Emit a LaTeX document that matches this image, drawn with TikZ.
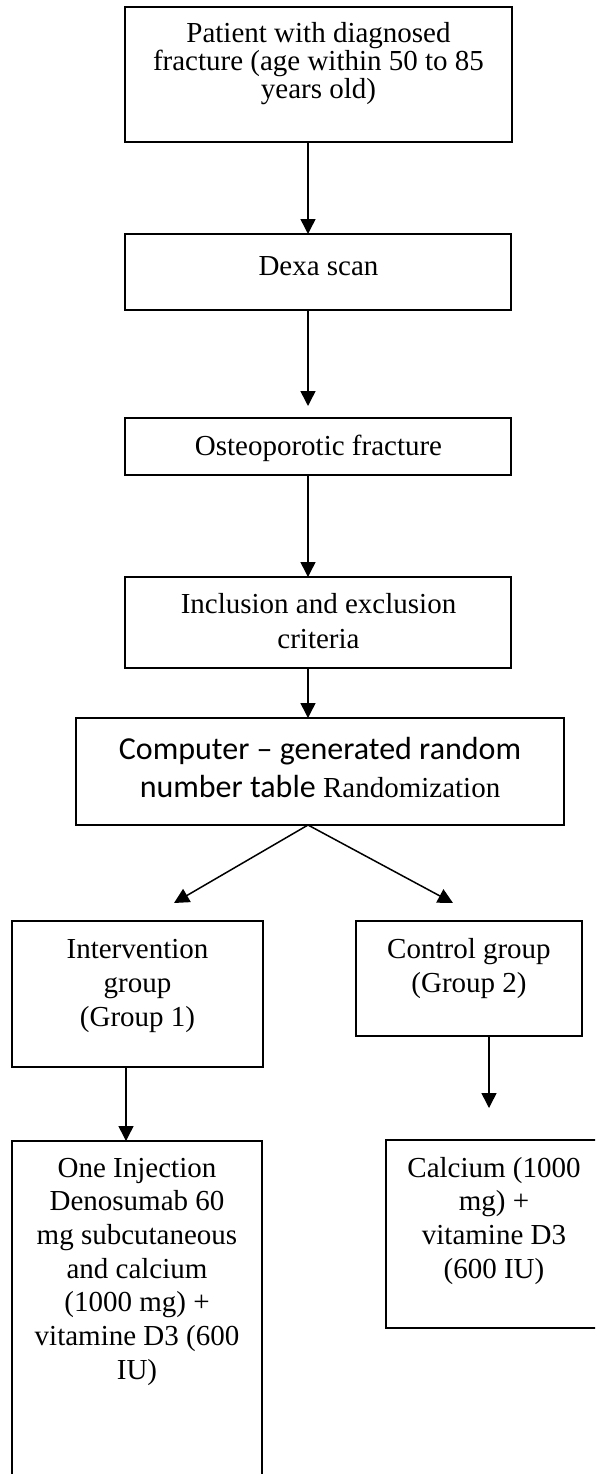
\documentclass[tikz,border=0pt]{standalone}
\usepackage{fontspec}
\setmainfont{Liberation Serif}
\newfontfamily\calib{Carlito}
\usetikzlibrary{arrows.meta}
\lineskiplimit=-100pt
\begin{document}
\begin{tikzpicture}[x=1pt,y=-1pt,
  boxst/.style={draw, line width=1.6pt, inner sep=0pt, outer sep=0pt, anchor=north west},
  txt/.style={inner sep=0pt, outer sep=0pt, anchor=base},
  arr/.style={line width=1.5pt, -{Triangle[length=15pt,width=15pt]}}]
\useasboundingbox (0,0) rectangle (595,1474);
\clip (0,0) rectangle (595,1474);
% boxes
\node[boxst, minimum width=387pt, minimum height=135pt] (b1) at (125,7) {};
\node[boxst, minimum width=386pt, minimum height=76pt] (b2) at (125,234) {};
\node[boxst, minimum width=386pt, minimum height=57pt] (b3) at (125,418) {};
\node[boxst, minimum width=386pt, minimum height=91pt] (b4) at (125,577) {};
\node[boxst, minimum width=488pt, minimum height=107pt] (b5) at (76,718) {};
\node[boxst, minimum width=251pt, minimum height=146pt] (b6) at (12,921) {};
\node[boxst, minimum width=226pt, minimum height=115pt] (b7) at (356,921) {};
\node[boxst, minimum width=250pt, minimum height=349pt] (b8) at (12,1141) {};
\node[boxst, minimum width=216pt, minimum height=188pt] (b9) at (386,1140) {};
% texts
\node[txt] (t1) at (318.5,42.5) {\parbox[t]{380pt}{\centering\fontsize{29}{28.2}\selectfont Patient with diagnosed\\ fracture (age within 50 to 85\\ years old)}};
\node[txt] (t2) at (318.5,275) {\parbox[t]{380pt}{\centering\fontsize{29}{33}\selectfont Dexa scan}};
\node[txt] (t3) at (318.5,455.5) {\parbox[t]{380pt}{\centering\fontsize{29}{33}\selectfont Osteoporotic fracture}};
\node[txt] (t4) at (318.5,613.3) {\parbox[t]{380pt}{\centering\fontsize{29}{35}\selectfont Inclusion and exclusion\\ criteria}};
\node[txt] (t5) at (320,759) {\parbox[t]{480pt}{\centering\fontsize{32}{38.5}\calib Computer – generated random\\ number table {\fontsize{29}{38.5}\rmfamily Randomization}}};
\node[txt] (t6) at (137.5,958) {\parbox[t]{245pt}{\centering\fontsize{29}{34}\selectfont Intervention\\ group\\ (Group 1)}};
\node[txt] (t7) at (469,958) {\parbox[t]{220pt}{\centering\fontsize{29}{34}\selectfont Control group\hspace*{18pt}\\ (Group 2)}};
\node[txt] (t8) at (137,1177) {\parbox[t]{245pt}{\centering\fontsize{29}{33.7}\selectfont One Injection\\ Denosumab 60\\ mg subcutaneous\\ and calcium\\ (1000 mg) +\\ vitamine D3 (600\\ IU)}};
\node[txt] (t9) at (494,1177) {\parbox[t]{212pt}{\centering\fontsize{29}{33.7}\selectfont Calcium (1000\\ mg) +\\ vitamine D3\\ (600 IU)}};
% connectors
\coordinate (cm) at (308,0);
\coordinate (g3) at (308,406);
\coordinate (tl) at (174,903);
\coordinate (tr) at (453,903);
\coordinate (cl) at (126,0);
\coordinate (cr) at (489,0);
\coordinate (g9) at (489,1108);
\draw[arr] (b1.south -| cm) -- (b2.north -| cm);
\draw[arr] (b2.south -| cm) -- (g3);
\draw[arr] (b3.south -| cm) -- (b4.north -| cm);
\draw[arr] (b4.south -| cm) -- (b5.north -| cm);
\draw[arr] (b5.south -| cm) -- (tl);
\draw[arr] (b5.south -| cm) -- (tr);
\draw[arr] (b6.south -| cl) -- (b8.north -| cl);
\draw[arr] (b7.south -| cr) -- (g9);
\end{tikzpicture}
\end{document}
